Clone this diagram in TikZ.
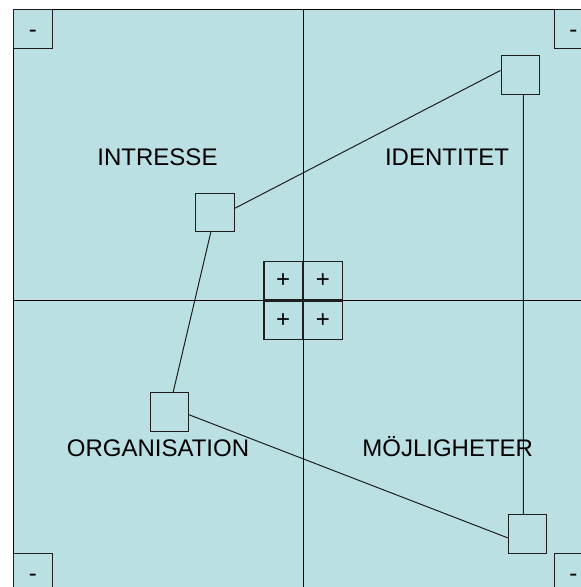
\documentclass[tikz,border=0pt]{standalone}
\usepackage{fontspec}
\setmainfont{Liberation Sans}
\definecolor{bg}{RGB}{187,224,227}
\definecolor{ink}{RGB}{30,30,30}
\begin{document}
\begin{tikzpicture}[x=1pt,y=-1pt,
  frm/.style={draw=black, line width=1.1pt, fill=bg, inner sep=0pt},
  box/.style={draw=ink, line width=1.1pt, fill=bg, minimum size=38.5pt, inner sep=0pt, font=\fontsize{24}{24}\selectfont},
  minusbox/.style={box, text height=18pt, text depth=0pt},
  sq/.style={draw=ink, line width=1.1pt, fill=bg, minimum size=38.5pt, inner sep=0pt},
  lbl/.style={font=\fontsize{24}{26}\selectfont, inner sep=0pt, anchor=base},
  conn/.style={line width=1pt, draw=ink},
  axis/.style={line width=1.1pt, draw=black}]
\path[use as bounding box] (0,0) rectangle (581,587);
\clip (0,0) rectangle (581,587);
% frame
\node[frm, minimum width=579pt, minimum height=582pt, anchor=north west] (frame) at (13,9) {};
\draw[axis] (frame.north) -- (frame.south);
\draw[axis] (frame.west) -- (frame.east);
% corner boxes
\node[minusbox, anchor=north west] (c1) at (frame.north west) {-};
\node[minusbox, anchor=north east] (c2) at (frame.north east) {-};
\node[minusbox, anchor=south west] (c3) at (frame.south west) {-};
\node[minusbox, anchor=south east] (c4) at (frame.south east) {-};
% central plus cells
\node[box, fill=none, anchor=south east] (p1) at (frame.center) {+};
\node[box, fill=none, anchor=south west] (p2) at (frame.center) {+};
\node[box, fill=none, anchor=north east] (p3) at (frame.center) {+};
\node[box, fill=none, anchor=north west] (p4) at (frame.center) {+};
% squares
\node[sq] (in) at (215,212.5) {};
\node[sq] (id) at (520.3,75) {};
\node[sq] (org) at (169.3,412) {};
\node[sq] (moj) at (527.5,534) {};
% connectors
\draw[conn] (in.12) -- (id.167);
\draw[conn] (in.-102) -- (org.79);
\draw[conn] (org.-8) -- (moj.-169);
\draw[conn] (id.-81) -- (moj.102);
% labels
\node[lbl] (lin) at (157.5,165) {INTRESSE};
\node[lbl] (lid) at (447,165) {IDENTITET};
\node[lbl] (lorg) at (158,456) {ORGANISATION};
\node[lbl] (lmoj) at (447.7,456) {MÖJLIGHETER};
\end{tikzpicture}
\end{document}
